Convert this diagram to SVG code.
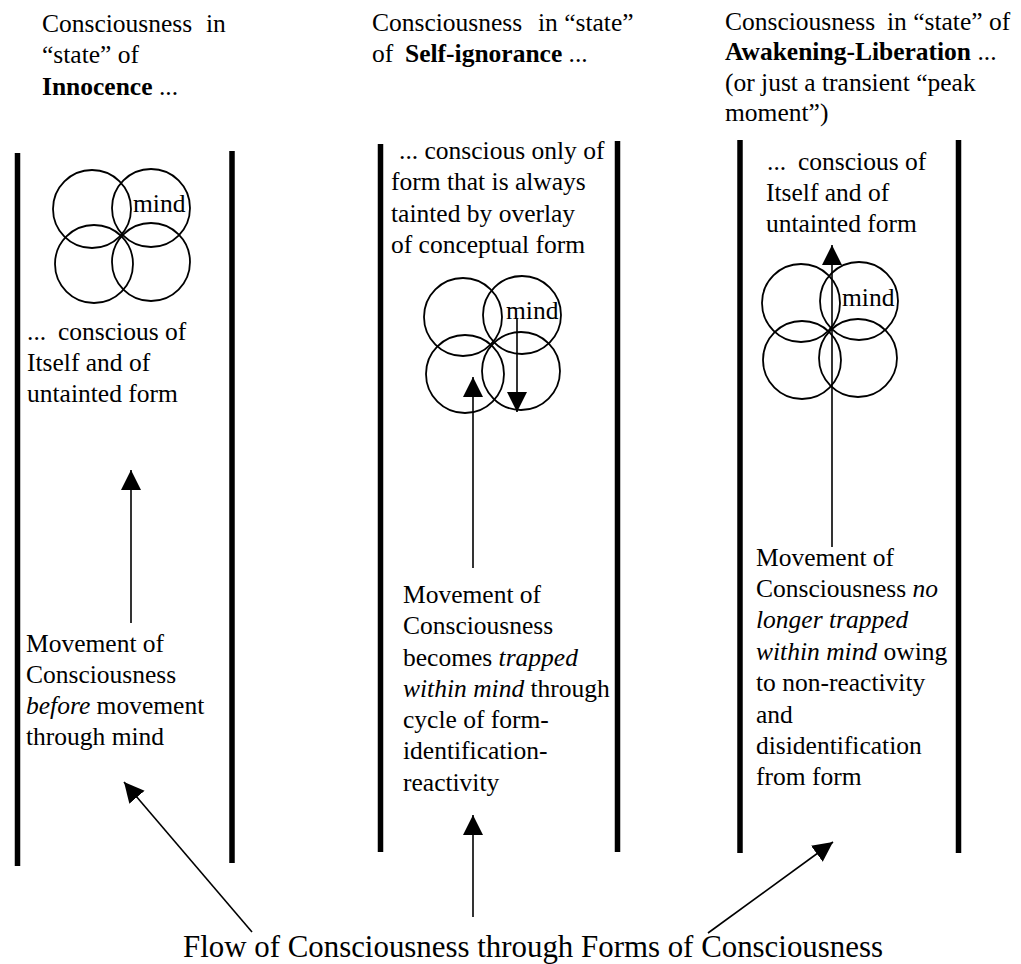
<svg xmlns="http://www.w3.org/2000/svg" width="1021" height="964" viewBox="0 0 1021 964">
<style>
.t{font-family:"Liberation Serif","Times New Roman",Times,serif;font-size:25.5px;fill:#000}
.b{font-weight:bold}
.i{font-style:italic}
.bar{stroke:#000;stroke-width:5.5}
.c{fill:none;stroke:#000;stroke-width:1.8}
.arr{stroke:#000;stroke-width:1.6;fill:none;marker-end:url(#ah)}
</style>
<defs>
<marker id="ah" markerUnits="userSpaceOnUse" markerWidth="22" markerHeight="22" refX="20" refY="10" orient="auto">
<path d="M0,0 L20,10 L0,20 z" fill="#000"/>
</marker>
</defs>
<rect width="1021" height="964" fill="#fff"/>

<g id="col-innocence">
<line class="bar" x1="17.5" y1="153" x2="17.5" y2="866"/>
<line class="bar" x1="232" y1="151" x2="232" y2="863"/>
<text class="t" x="42" y="32">Consciousness<tspan x="206">in</tspan></text>
<text class="t" x="42" y="63">“state” of</text>
<text class="t" x="42" y="95"><tspan class="b">Innocence</tspan> ...</text>
<g id="mind-1">
<circle class="c" cx="92" cy="209" r="39"/>
<circle class="c" cx="151" cy="208" r="39"/>
<circle class="c" cx="94" cy="264" r="39"/>
<circle class="c" cx="151" cy="262" r="39"/>
<text class="t" x="133" y="212">mind</text>
</g>
<text class="t" x="27" y="340">...<tspan x="58">conscious of</tspan></text>
<text class="t" x="27" y="371">Itself and of</text>
<text class="t" x="27" y="402">untainted form</text>
<text class="t" x="26" y="652">Movement of</text>
<text class="t" x="26" y="683">Consciousness</text>
<text class="t" x="26" y="714"><tspan class="i">before</tspan> movement</text>
<text class="t" x="26" y="745">through mind</text>
</g>

<g id="col-self-ignorance">
<line class="bar" x1="380.5" y1="144" x2="380.5" y2="852"/>
<line class="bar" x1="617.5" y1="141" x2="617.5" y2="852"/>
<text class="t" x="372" y="31">Consciousness<tspan x="538">in “state”</tspan></text>
<text class="t" x="372" y="62">of<tspan x="405" class="b">Self-ignorance</tspan> ...</text>
<text class="t" x="399" y="159">... conscious only of</text>
<text class="t" x="391" y="190">form that is always</text>
<text class="t" x="391" y="222">tainted by overlay</text>
<text class="t" x="391" y="253">of conceptual form</text>
<g id="mind-2">
<circle class="c" cx="463" cy="317" r="39"/>
<circle class="c" cx="522" cy="315" r="39"/>
<circle class="c" cx="465" cy="374" r="39"/>
<circle class="c" cx="521" cy="371" r="39"/>
<text class="t" x="506" y="319">mind</text>
</g>
<text class="t" x="403" y="603">Movement of</text>
<text class="t" x="403" y="634">Consciousness</text>
<text class="t" x="403" y="666">becomes <tspan class="i">trapped</tspan></text>
<text class="t" x="403" y="697"><tspan class="i">within mind</tspan> through</text>
<text class="t" x="403" y="728">cycle of form-</text>
<text class="t" x="403" y="759">identification-</text>
<text class="t" x="403" y="791">reactivity</text>
</g>

<g id="col-awakening">
<line class="bar" x1="740" y1="140" x2="740" y2="853"/>
<line class="bar" x1="958.5" y1="140" x2="958.5" y2="853"/>
<text class="t" x="725" y="30">Consciousness<tspan x="887">in “state” of</tspan></text>
<text class="t" x="725" y="60"><tspan class="b">Awakening-Liberation</tspan> ...</text>
<text class="t" x="725" y="91">(or just a transient “peak</text>
<text class="t" x="725" y="121">moment”)</text>
<text class="t" x="767" y="170">...<tspan x="798">conscious of</tspan></text>
<text class="t" x="766" y="201">Itself and of</text>
<text class="t" x="766" y="232">untainted form</text>
<g id="mind-3">
<circle class="c" cx="801" cy="303" r="39"/>
<circle class="c" cx="859" cy="301" r="39"/>
<circle class="c" cx="802" cy="360" r="39"/>
<circle class="c" cx="858" cy="358" r="39"/>
<text class="t" x="842" y="306">mind</text>
</g>
<text class="t" x="756" y="566">Movement of</text>
<text class="t" x="756" y="597">Consciousness <tspan class="i">no</tspan></text>
<text class="t i" x="756" y="628">longer trapped</text>
<text class="t" x="756" y="660"><tspan class="i">within mind</tspan> owing</text>
<text class="t" x="756" y="691">to non-reactivity</text>
<text class="t" x="756" y="723">and</text>
<text class="t" x="756" y="754">disidentification</text>
<text class="t" x="756" y="785">from form</text>
</g>

<g id="flow-label">
<text class="t" x="183" y="957" style="font-size:31px" textLength="700" lengthAdjust="spacingAndGlyphs">Flow of Consciousness through Forms of Consciousness</text>
</g>

<g id="connectors">
<line class="arr" x1="131" y1="623" x2="131" y2="470"/>
<line class="arr" x1="473" y1="568" x2="473" y2="377"/>
<line class="arr" x1="517" y1="318" x2="517" y2="412"/>
<line class="arr" x1="832" y1="547" x2="832" y2="245"/>
<line class="arr" x1="252" y1="932" x2="124" y2="782"/>
<line class="arr" x1="473" y1="917" x2="473" y2="815"/>
<line class="arr" x1="708" y1="933" x2="833" y2="842"/>
</g>
</svg>
